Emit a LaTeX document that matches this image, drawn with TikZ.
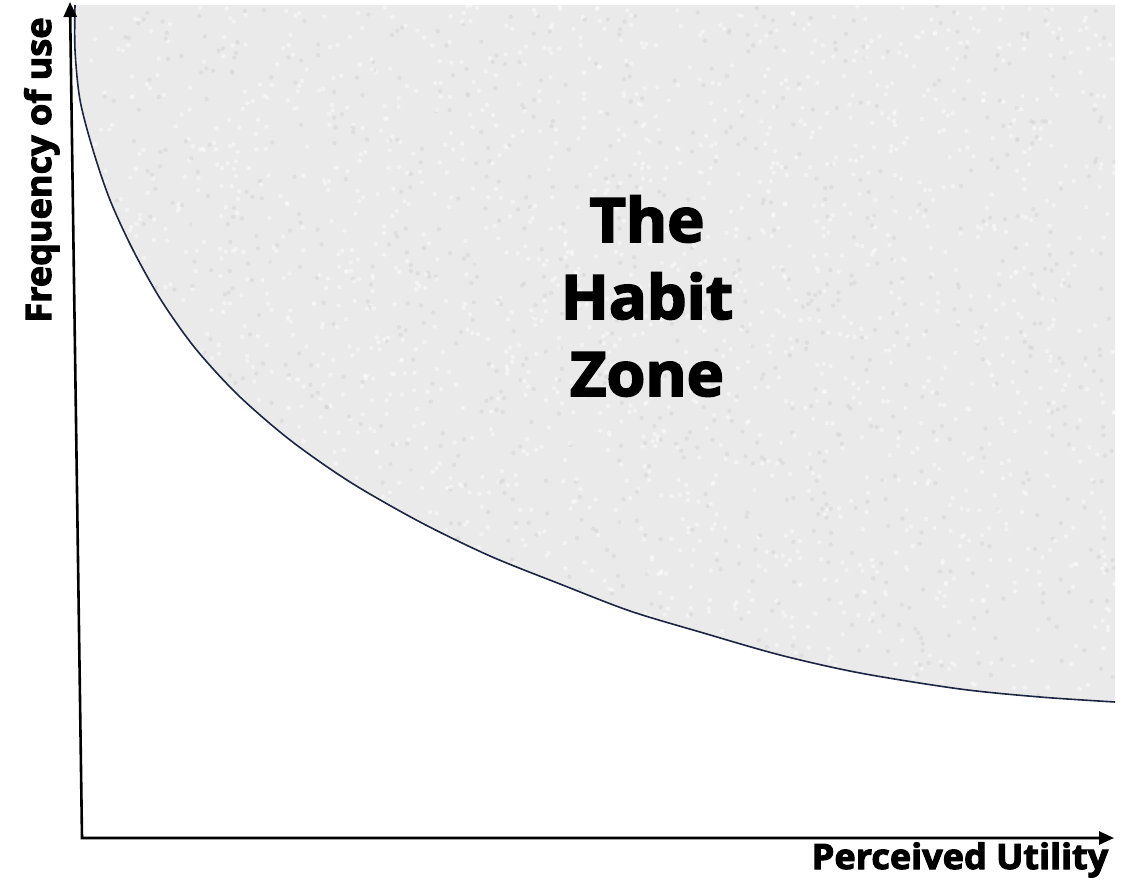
\documentclass[tikz,border=0pt]{standalone}
\usepackage{fontspec}
\setmainfont{Open Sans}
\newfontfamily\heavyfont{Open Sans}[FakeStretch=1.03, BoldFeatures={FakeBold=3}]
\definecolor{HZCurve}{HTML}{1C2541}
\definecolor{HZStone}{HTML}{EAEAEA}
\usetikzlibrary{positioning,arrows.meta}

\begin{document}
\begin{tikzpicture}[x=1pt, y=-1pt, font=\heavyfont\bfseries,
    axis/.style={line width=2.6pt, {Triangle[length=15pt,width=13pt]}-{Triangle[length=15pt,width=13pt]}},
    edge/.style={HZCurve, line width=1.6pt},
    axislabel/.style={font=\heavyfont\bfseries\fontsize{35}{40}\selectfont},
    zonelabel/.style={align=center, font=\heavyfont\bfseries\fontsize{61}{77}\selectfont}]
  \useasboundingbox (0,0) rectangle (1145,892);
  \def\zoneedge{(75,5) (75,50) (80,100) (93,150) (110,200) (133,250) (161,300) (195,348) (238,395) (290,440) (350,482) (420,522) (490,556) (560,584) (630,611) (700,632) (780,655) (860,673) (960,689) (1040,697) (1115,702)}
  % stone textured zone
  \fill[HZStone] plot[smooth] coordinates {\zoneedge} -- (1115,5) -- cycle;
  \begin{scope}
    \clip plot[smooth] coordinates {\zoneedge} -- (1115,5) -- cycle;
    \pgfmathsetseed{7}
    \foreach \i in {1,...,3000} {
      \pgfmathsetmacro{\sx}{75+1040*rnd}
      \pgfmathsetmacro{\sy}{5+700*rnd}
      \pgfmathsetmacro{\sg}{random(0,2)==0 ? 18 : 0}
      \fill[black!\sg, opacity=0.45] (\sx,\sy) circle (2.2pt);
    }
  \end{scope}
  \draw[edge] plot[smooth] coordinates {\zoneedge};
  % axes
  \coordinate (o) at (82,838);
  \coordinate (ytop) at (70,2);
  \coordinate (xend) at (1114,838);
  \draw[axis] (ytop) -- (o) -- (xend);
  \node[axislabel, rotate=90, anchor=base] (ylabel) at (51,170) {Frequency of use};
  \node[axislabel, anchor=base] (xlabel) at (960,869) {Perceived Utility};
  \node[zonelabel] (zone) at (647,296) {The\\Habit\\Zone};
\end{tikzpicture}
\end{document}
